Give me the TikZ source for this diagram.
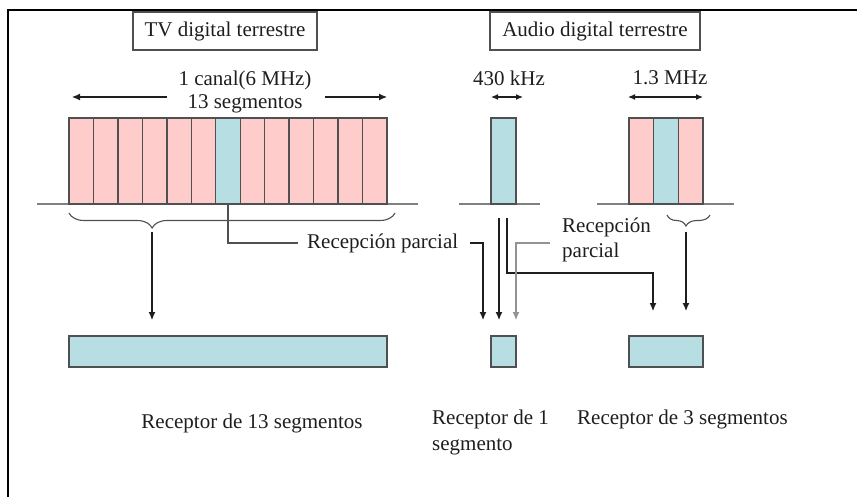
\documentclass[tikz,border=0pt]{standalone}
\usepackage{fontspec}
\setmainfont{Liberation Serif}
\usetikzlibrary{arrows.meta,decorations.pathreplacing}

\definecolor{segpink}{RGB}{255,204,204}
\definecolor{segcyan}{RGB}{183,222,226}
\definecolor{edge}{RGB}{80,80,80}
\definecolor{ink}{RGB}{30,30,30}

\tikzset{
  every node/.style={font=\fontsize{21}{23}\selectfont, text=ink},
  titlebox/.style={draw=edge, line width=1.4pt, minimum width=#1, minimum height=38pt, inner sep=0pt},
  seg/.style={draw=edge, line width=1.4pt, inner sep=0pt, minimum width=24.46pt, minimum height=86pt},
  rxbox/.style={draw=edge, line width=1.5pt, fill=segcyan, inner sep=0pt, minimum height=31pt, minimum width=#1},
  tip/.style={-{Latex[length=8pt,width=7pt]}},
  arr/.style={draw=ink, line width=1.1pt, tip},
  darr/.style={draw=ink, line width=1.1pt, {Latex[length=7pt,width=6pt]}-{Latex[length=7pt,width=6pt]}},
  lead/.style={draw=edge, line width=1.1pt},
  ground/.style={draw=gray, line width=1.3pt},
  bracestyle/.style={draw=edge, line width=1.1pt, decorate,
    decoration={brace, mirror, amplitude=#1}},
}

\begin{document}
\begin{tikzpicture}[x=1pt,y=-1pt]
\useasboundingbox (0,0) rectangle (857,497);

% open frame (left and top edges)
\draw[line width=2.4pt, black] (8,497) -- (8,10) -- (857,10);

% section titles
\node[titlebox=184pt] (tvtitle) at (225,31) {TV digital terrestre};
\node[titlebox=210pt] (audiotitle) at (595,31) {Audio digital terrestre};

% ---------- 13-segment TV channel ----------
\draw[ground] (37,204) -- (418,204);
\foreach \i in {1,...,13} {
  \pgfmathsetmacro\cx{69+24.46*(\i-0.5)}
  \ifnum\i=7 \def\fillcol{segcyan}\else\def\fillcol{segpink}\fi
  \node[seg, fill=\fillcol] (s\i) at (\cx,161) {};
}
\node[align=center, inner sep=0pt] (canal) at (245,92) {1 canal(6 MHz)\\13 segmentos};
\coordinate (canalLi) at (167,97);
\coordinate (canalLo) at (72,97);
\coordinate (canalRi) at (325,97);
\coordinate (canalRo) at (387,97);
\draw[arr] (canalLi) -- (canalLo);
\draw[arr] (canalRi) -- (canalRo);

% brace under the full channel
\draw[bracestyle=15pt, decoration={aspect=0.255}] (69,213) -- (395,213);
\coordinate (fullTip) at (152,232);

% ---------- 1-segment audio ----------
\draw[ground] (459,204) -- (540,204);
\node[seg, fill=segcyan, minimum width=25pt] (a1) at (503.5,161) {};
\node[inner sep=0pt] (khz) at (509,78) {430 kHz};
\coordinate (khzL) at (491,97);
\coordinate (khzR) at (523,97);
\draw[darr] (khzL) -- (khzR);

% ---------- 3-segment audio ----------
\draw[ground] (597,204) -- (734,204);
\node[seg, fill=segpink, minimum width=24.67pt] (t1) at (641.3,161) {};
\node[seg, fill=segcyan, minimum width=24.67pt] (t2) at (666.0,161) {};
\node[seg, fill=segpink, minimum width=24.67pt] (t3) at (690.7,161) {};
\node[inner sep=0pt] (mhz) at (670,78) {1.3 MHz};
\coordinate (mhzL) at (628,97);
\coordinate (mhzR) at (703,97);
\draw[darr] (mhzL) -- (mhzR);
\draw[bracestyle=11pt, decoration={aspect=0.44}] (667,215) -- (710,215);
\coordinate (threeTip) at (686,232);

% ---------- receivers ----------
\node[rxbox=318pt] (r13) at (228,351.5) {};
\node[rxbox=25pt] (r1) at (503.5,351.5) {};
\node[rxbox=74pt] (r3) at (666,351.5) {};

\node (r13lbl) at (252,423) {Receptor de 13 segmentos};
\node[align=left, anchor=west, inner sep=0pt, font=\fontsize{21}{26}\selectfont] (r1lbl) at (432,432) {Receptor de 1\\segmento};
\node[anchor=west, inner sep=0pt] (r3lbl) at (577,419) {Receptor de 3 segmentos};

% partial-reception labels
\node[anchor=west, inner sep=0pt] (rp1) at (307,243) {Recepción parcial};
\node[align=left, anchor=west, inner sep=0pt, font=\fontsize{21}{25}\selectfont] (rp2) at (562,240) {Recepción\\parcial};

% arrow end points above the receivers
\coordinate (e13) at (152,320);
\coordinate (e1a) at (483,320);
\coordinate (e1b) at (499,320);
\coordinate (e1c) at (516,320);
\coordinate (e3a) at (653,311);
\coordinate (e3b) at (686,311);

% full channel -> 13-segment receiver
\draw[arr] (fullTip) -- (e13);

% centre segment -> partial reception -> 1-segment receiver
\draw[lead] (s7.south) -- (s7.south |- rp1.west) -- ([xshift=-9pt]rp1.west);
\draw[arr] ([xshift=12pt]rp1.east) -| (e1a);

% 430 kHz band -> 1-segment and 3-segment receivers
\coordinate (a1outA) at (499,218);
\coordinate (a1outB) at (507,218);
\draw[arr] (a1outA) -- (e1b);
\draw[arr] (a1outB) |- (580,273) -| (e3a);

% 1.3 MHz centre segment (partial reception) -> 1-segment receiver
\draw[arr, draw=gray!85] ([xshift=-12pt, yshift=-3pt]rp2.west) -| (e1c);

% 3-segment band -> 3-segment receiver
\draw[arr] (threeTip) -- (e3b);
\end{tikzpicture}
\end{document}
